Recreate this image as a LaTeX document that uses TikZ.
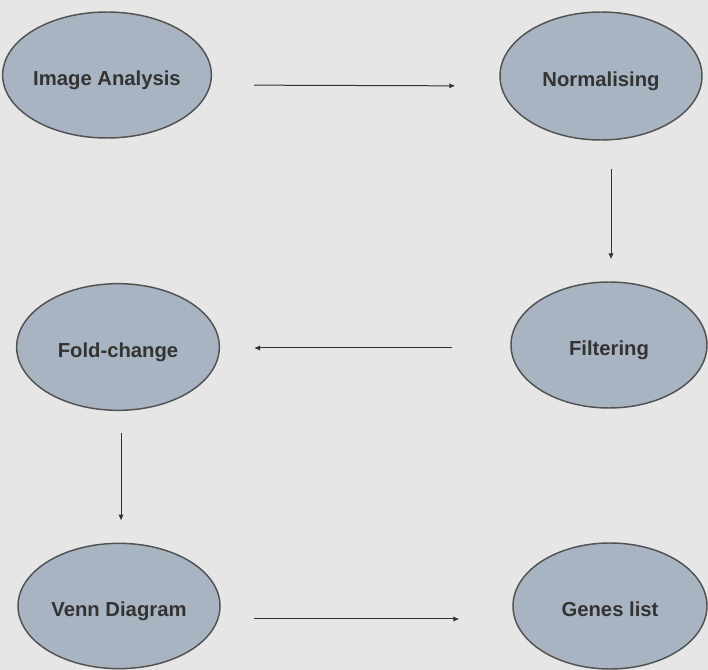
\documentclass[tikz,border=0pt]{standalone}
\usepackage{fontspec}
\setmainfont{Liberation Sans}
\usetikzlibrary{shapes.geometric,arrows.meta}
\definecolor{paper}{HTML}{E6E6E6}
\definecolor{stagefill}{HTML}{A9B4C2}
\definecolor{ink}{HTML}{333333}
\begin{document}
\begin{tikzpicture}[x=.75pt,y=-.75pt,
                    stage/.style={ellipse,draw=ink!85,line width=1.1pt,fill=stagefill,
                                  inner sep=0pt,text=ink,text height=1.75em,text depth=.22em,
                                  font=\fontsize{15.2}{18}\selectfont\bfseries},
                    link/.style={draw=ink,line width=.75pt,-{Latex[length=4.5pt,width=4pt]}}]
 \fill[paper] (0,0) rectangle (708,670);
 \useasboundingbox (0,0) rectangle (708,670);
 \node[stage,minimum width=150pt,minimum height=94.5pt] (ia) at (107,75) {Image Analysis};
 \node[stage,minimum width=151.5pt,minimum height=96pt] (norm) at (601,76) {Normalising};
 \node[stage,minimum width=152pt,minimum height=95pt] (fold) at (118,347) {Fold-change};
 \node[stage,minimum width=147pt,minimum height=94.5pt] (filt) at (609,345) {Filtering};
 \node[stage,minimum width=151.5pt,minimum height=94pt] (venn) at (119,606) {Venn Diagram};
 \node[stage,minimum width=145.5pt,minimum height=94.5pt] (genes) at (610,606) {Genes list};
 \draw[link,shorten <=31.5pt,shorten >=33pt] ([shift={(0,10)}]ia.east) -- ([shift={(0,10)}]norm.west);
 \draw[link,shorten <=21pt,shorten >=16.5pt] ([shift={(10,0)}]norm.south) -- ([shift={(2,0)}]filt.north);
 \draw[link,shorten <=43.5pt,shorten >=25.5pt] ([shift={(0,3)}]filt.west) -- ([shift={(0,1)}]fold.east);
 \draw[link,shorten <=16.5pt,shorten >=16.5pt] ([shift={(3,0)}]fold.south) -- ([shift={(2,0)}]venn.north);
 \draw[link,shorten <=24.75pt,shorten >=39.75pt] ([shift={(0,13)}]venn.east) -- ([shift={(0,13)}]genes.west);
\end{tikzpicture}
\end{document}
